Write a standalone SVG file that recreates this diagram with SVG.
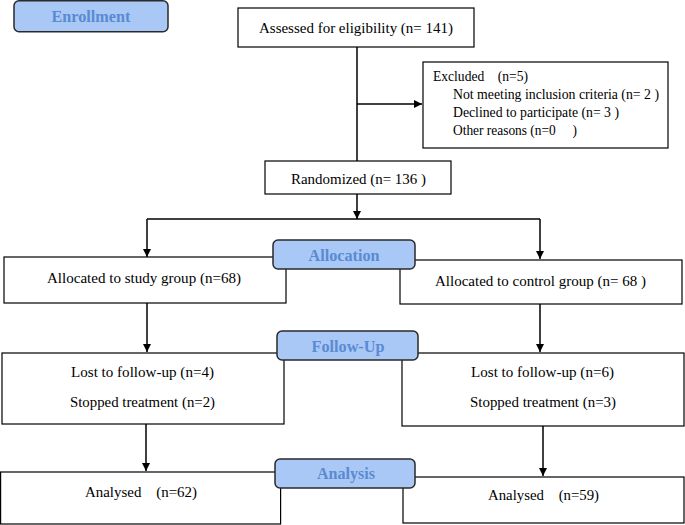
<svg xmlns="http://www.w3.org/2000/svg" width="685" height="525" viewBox="0 0 685 525">
<defs>
<marker id="ah" viewBox="0 0 10 10" refX="10" refY="5" markerWidth="8" markerHeight="8" markerUnits="userSpaceOnUse" orient="auto">
<path d="M0,0 L10,5 L0,10 z" fill="#000"/>
</marker>
</defs>
<style>
.box{fill:#fff;stroke:#000;stroke-width:1.2}
.lab{fill:#a9c8f6;stroke:#2a2a2a;stroke-width:1.5}
.t{font-family:"Liberation Serif","Times New Roman",serif;font-size:15px;fill:#000}
.s{font-size:14px}
.lt{font-family:"Liberation Serif","Times New Roman",serif;font-size:16px;font-weight:bold;fill:#5a8ad2;text-anchor:middle}
.c{fill:none;stroke:#000;stroke-width:1.5}
</style>
<rect width="685" height="525" fill="#fff"/>
<g id="connectors">
<line class="c" x1="357" y1="47" x2="357" y2="161"/>
<line class="c" x1="357" y1="104" x2="422" y2="104" marker-end="url(#ah)"/>
<line class="c" x1="357" y1="194" x2="357" y2="219" marker-end="url(#ah)"/>
<line class="c" x1="147" y1="219" x2="540" y2="219"/>
<line class="c" x1="147" y1="219" x2="147" y2="257" marker-end="url(#ah)"/>
<line class="c" x1="540" y1="219" x2="540" y2="259" marker-end="url(#ah)"/>
<line class="c" x1="147" y1="303" x2="147" y2="352" marker-end="url(#ah)"/>
<line class="c" x1="540" y1="304" x2="540" y2="352" marker-end="url(#ah)"/>
<line class="c" x1="146" y1="424" x2="146" y2="471" marker-end="url(#ah)"/>
<line class="c" x1="543" y1="426" x2="543" y2="476" marker-end="url(#ah)"/>
</g>
<g id="assessed">
<rect class="box" x="238" y="8" width="236" height="39"/>
<text class="t" x="259" y="33" textLength="194" lengthAdjust="spacingAndGlyphs">Assessed for eligibility (n= 141)</text>
</g>
<g id="excluded">
<rect class="box" x="423" y="62" width="245" height="86"/>
<text class="t s" x="433" y="81" xml:space="preserve" textLength="95" lengthAdjust="spacingAndGlyphs">Excluded    (n=5)</text>
<text class="t s" x="453" y="99" textLength="206" lengthAdjust="spacingAndGlyphs">Not meeting inclusion criteria (n= 2 )</text>
<text class="t s" x="453" y="117" textLength="166" lengthAdjust="spacingAndGlyphs">Declined to participate (n= 3 )</text>
<text class="t s" x="453" y="135" xml:space="preserve" textLength="124" lengthAdjust="spacingAndGlyphs">Other reasons (n=0     )</text>
</g>
<g id="randomized">
<rect class="box" x="265" y="161" width="186" height="33"/>
<text class="t" x="291" y="184" textLength="135" lengthAdjust="spacingAndGlyphs">Randomized (n= 136 )</text>
</g>
<g id="alloc-study">
<rect class="box" x="4" y="257" width="282" height="46"/>
<text class="t" x="47" y="283" textLength="194" lengthAdjust="spacingAndGlyphs">Allocated to study group (n=68)</text>
</g>
<g id="alloc-control">
<rect class="box" x="400" y="260" width="282" height="44"/>
<text class="t" x="435" y="286" textLength="211" lengthAdjust="spacingAndGlyphs">Allocated to control group (n= 68 )</text>
</g>
<g id="fu-study">
<rect class="box" x="2" y="353" width="282" height="71"/>
<text class="t" x="71" y="377" textLength="143" lengthAdjust="spacingAndGlyphs">Lost to follow-up (n=4)</text>
<text class="t" x="70" y="407" textLength="145" lengthAdjust="spacingAndGlyphs">Stopped treatment (n=2)</text>
</g>
<g id="fu-control">
<rect class="box" x="402" y="353" width="282" height="73"/>
<text class="t" x="471" y="377" textLength="143" lengthAdjust="spacingAndGlyphs">Lost to follow-up (n=6)</text>
<text class="t" x="470" y="407" textLength="146" lengthAdjust="spacingAndGlyphs">Stopped treatment (n=3)</text>
</g>
<g id="an-study">
<rect class="box" x="0.6" y="472" width="280" height="52"/>
<text class="t" x="85" y="497" xml:space="preserve" textLength="112" lengthAdjust="spacingAndGlyphs">Analysed    (n=62)</text>
</g>
<g id="an-control">
<rect class="box" x="403" y="477" width="281" height="46"/>
<text class="t" x="488" y="500" xml:space="preserve" textLength="111" lengthAdjust="spacingAndGlyphs">Analysed    (n=59)</text>
</g>
<g id="lab-enrollment">
<rect class="lab" x="14" y="0.8" width="154" height="31" rx="5"/>
<text class="lt" x="91" y="22" textLength="79" lengthAdjust="spacingAndGlyphs">Enrollment</text>
</g>
<g id="lab-allocation">
<rect class="lab" x="273" y="240" width="142" height="29" rx="5"/>
<text class="lt" x="344" y="261" textLength="71" lengthAdjust="spacingAndGlyphs">Allocation</text>
</g>
<g id="lab-followup">
<rect class="lab" x="277" y="331" width="141" height="29" rx="5"/>
<text class="lt" x="348" y="352" textLength="73" lengthAdjust="spacingAndGlyphs">Follow-Up</text>
</g>
<g id="lab-analysis">
<rect class="lab" x="275" y="459" width="140" height="29" rx="5"/>
<text class="lt" x="346" y="479" textLength="58" lengthAdjust="spacingAndGlyphs">Analysis</text>
</g>
</svg>
